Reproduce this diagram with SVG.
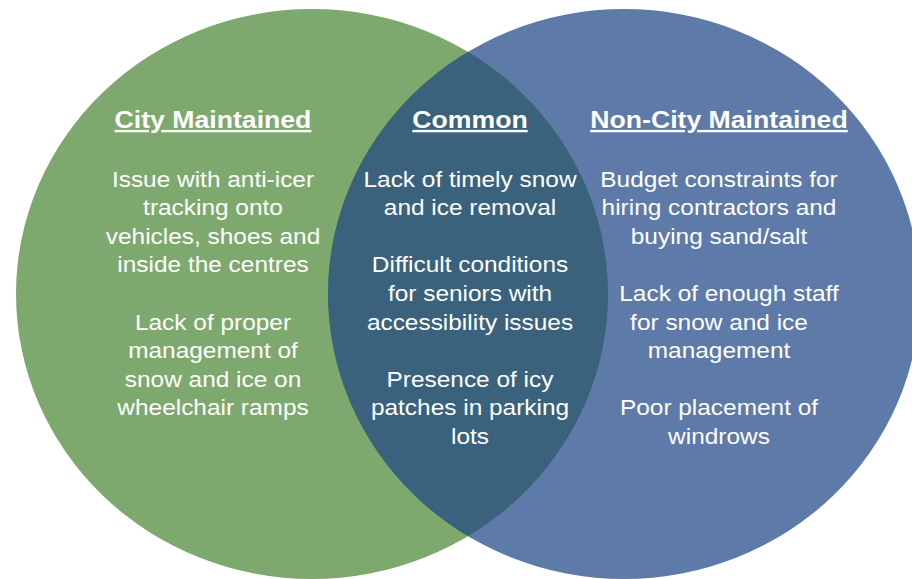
<svg xmlns="http://www.w3.org/2000/svg" width="912" height="579" viewBox="0 0 912 579">
  <defs>
    <clipPath id="clipGreen">
      <ellipse cx="312" cy="294" rx="296" ry="285"/>
    </clipPath>
    <style>
      .head { font-family: "Liberation Sans", Arial, sans-serif; font-size: 24px; font-weight: bold; fill: #ffffff; text-anchor: middle; text-decoration: underline; }
      .body { font-family: "Liberation Sans", Arial, sans-serif; font-size: 22px; fill: #ffffff; text-anchor: middle; }
    </style>
  </defs>
  <rect width="912" height="579" fill="#ffffff"/>
  <g id="city-maintained">
    <ellipse cx="312" cy="294" rx="296" ry="285" fill="#7ea96e"/>
  </g>
  <g id="non-city-maintained">
    <ellipse cx="624" cy="294" rx="296" ry="285" fill="#5e7aa9"/>
  </g>
  <g id="common">
    <ellipse cx="624" cy="294" rx="296" ry="285" fill="#3a627c" clip-path="url(#clipGreen)"/>
  </g>
  <g id="city-maintained-text" transform="translate(213 0) scale(1.11 1)">
    <text class="head" x="0" y="128">City Maintained</text>
    <text class="body" x="0" y="187">Issue with anti-icer</text>
    <text class="body" x="0" y="215.5">tracking onto</text>
    <text class="body" x="0" y="244">vehicles, shoes and</text>
    <text class="body" x="0" y="272.5">inside the centres</text>
    <text class="body" x="0" y="330">Lack of proper</text>
    <text class="body" x="0" y="358.5">management of</text>
    <text class="body" x="0" y="387">snow and ice on</text>
    <text class="body" x="0" y="415.5">wheelchair ramps</text>
  </g>
  <g id="common-text" transform="translate(470 0) scale(1.11 1)">
    <text class="head" x="0" y="128">Common</text>
    <text class="body" x="0" y="187">Lack of timely snow</text>
    <text class="body" x="0" y="215.5">and ice removal</text>
    <text class="body" x="0" y="272.5">Difficult conditions</text>
    <text class="body" x="0" y="301">for seniors with</text>
    <text class="body" x="0" y="330">accessibility issues</text>
    <text class="body" x="0" y="387">Presence of icy</text>
    <text class="body" x="0" y="415.5">patches in parking</text>
    <text class="body" x="0" y="444">lots</text>
  </g>
  <g id="non-city-maintained-text" transform="translate(719 0) scale(1.11 1)">
    <text class="head" x="0" y="128">Non-City Maintained</text>
    <text class="body" x="0" y="187">Budget constraints for</text>
    <text class="body" x="0" y="215.5">hiring contractors and</text>
    <text class="body" x="0" y="244">buying sand/salt</text>
    <text class="body" x="9" y="301">Lack of enough staff</text>
    <text class="body" x="0" y="330">for snow and ice</text>
    <text class="body" x="0" y="358.5">management</text>
    <text class="body" x="0" y="415.5">Poor placement of</text>
    <text class="body" x="0" y="444">windrows</text>
  </g>
</svg>
